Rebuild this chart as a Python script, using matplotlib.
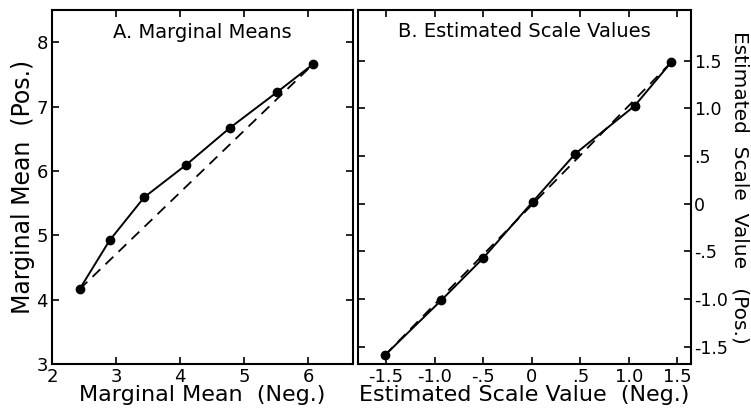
import matplotlib
matplotlib.use("Agg")
import matplotlib.pyplot as plt

# Panel A: marginal means
neg_means = [2.43, 2.90, 3.44, 4.09, 4.78, 5.51, 6.08]
pos_means = [4.16, 4.92, 5.59, 6.09, 6.67, 7.22, 7.66]
a_xticks = [2, 3, 4, 5, 6]
a_yticks = [3, 4, 5, 6, 7, 8]

# Panel B: estimated scale values
neg_scale = [-1.51, -0.93, -0.50, 0.01, 0.45, 1.06, 1.435]
pos_scale = [-1.585, -1.01, -0.57, 0.02, 0.525, 1.025, 1.48]
b_ticks = [-1.5, -1.0, -0.5, 0, 0.5, 1.0, 1.5]
b_xlabels = ["-1.5", "-1.0", "-.5", "0", ".5", "1.0", "1.5"]
b_ylabels = ["-1.5", "-1.0", "-.5", "0", ".5", "1.0", "1.5"]

plt.rcParams['font.family'] = ['DejaVu Sans']

fig = plt.figure(figsize=(7.51, 4.16), dpi=100)
axA = fig.add_axes([0.0692, 0.125, 0.4008, 0.851])
axB = fig.add_axes([0.4767, 0.125, 0.4433, 0.851])

for ax in (axA, axB):
    for s in ax.spines.values():
        s.set_linewidth(1.5)
    ax.tick_params(direction='in', length=5, width=1.2, labelsize=13,
                   top=True, right=True, bottom=True, left=True, pad=3)

# Panel A
axA.plot([neg_means[0], neg_means[-1]], [pos_means[0], pos_means[-1]],
         color='black', lw=1.3, ls=(0, (6, 4)))
axA.plot(neg_means, pos_means, color='black', lw=1.4, marker='o', ms=6)
axA.set_xlim(2, 6.7)
axA.set_ylim(3, 8.5)
axA.set_xticks(a_xticks)
axA.set_yticks(a_yticks)
axA.set_xlabel("Marginal Mean  (Neg.)", fontsize=16, labelpad=-1)
axA.set_ylabel("Marginal Mean  (Pos.)", fontsize=17, labelpad=1)
axA.text(0.5, 0.935, "A. Marginal Means", transform=axA.transAxes,
         ha='center', va='center', fontsize=14)

# Panel B
axB.plot([neg_scale[0], neg_scale[-1]], [pos_scale[0], pos_scale[-1]],
         color='black', lw=1.3, ls=(0, (6, 4)))
axB.plot(neg_scale, pos_scale, color='black', lw=1.4, marker='o', ms=6)
axB.set_xlim(-1.79, 1.64)
axB.set_ylim(-1.68, 2.03)
axB.set_xticks(b_ticks)
axB.set_xticklabels(b_xlabels)
axB.set_yticks(b_ticks)
axB.set_yticklabels(b_ylabels)
axB.tick_params(axis='y', labelleft=False, labelright=True, labelsize=12.5,
                pad=2)
axB.yaxis.set_label_position('right')
axB.set_xlabel("Estimated Scale Value  (Neg.)", fontsize=16, labelpad=-1)
axB.set_ylabel("Estimated  Scale  Value   (Pos.)", fontsize=14.5,
               rotation=-90, va='center')
axB.yaxis.set_label_coords(1.148, 0.5)
axB.text(0.5, 0.94, "B. Estimated Scale Values", transform=axB.transAxes,
         ha='center', va='center', fontsize=14)

fig.savefig("out.png", dpi=100)
